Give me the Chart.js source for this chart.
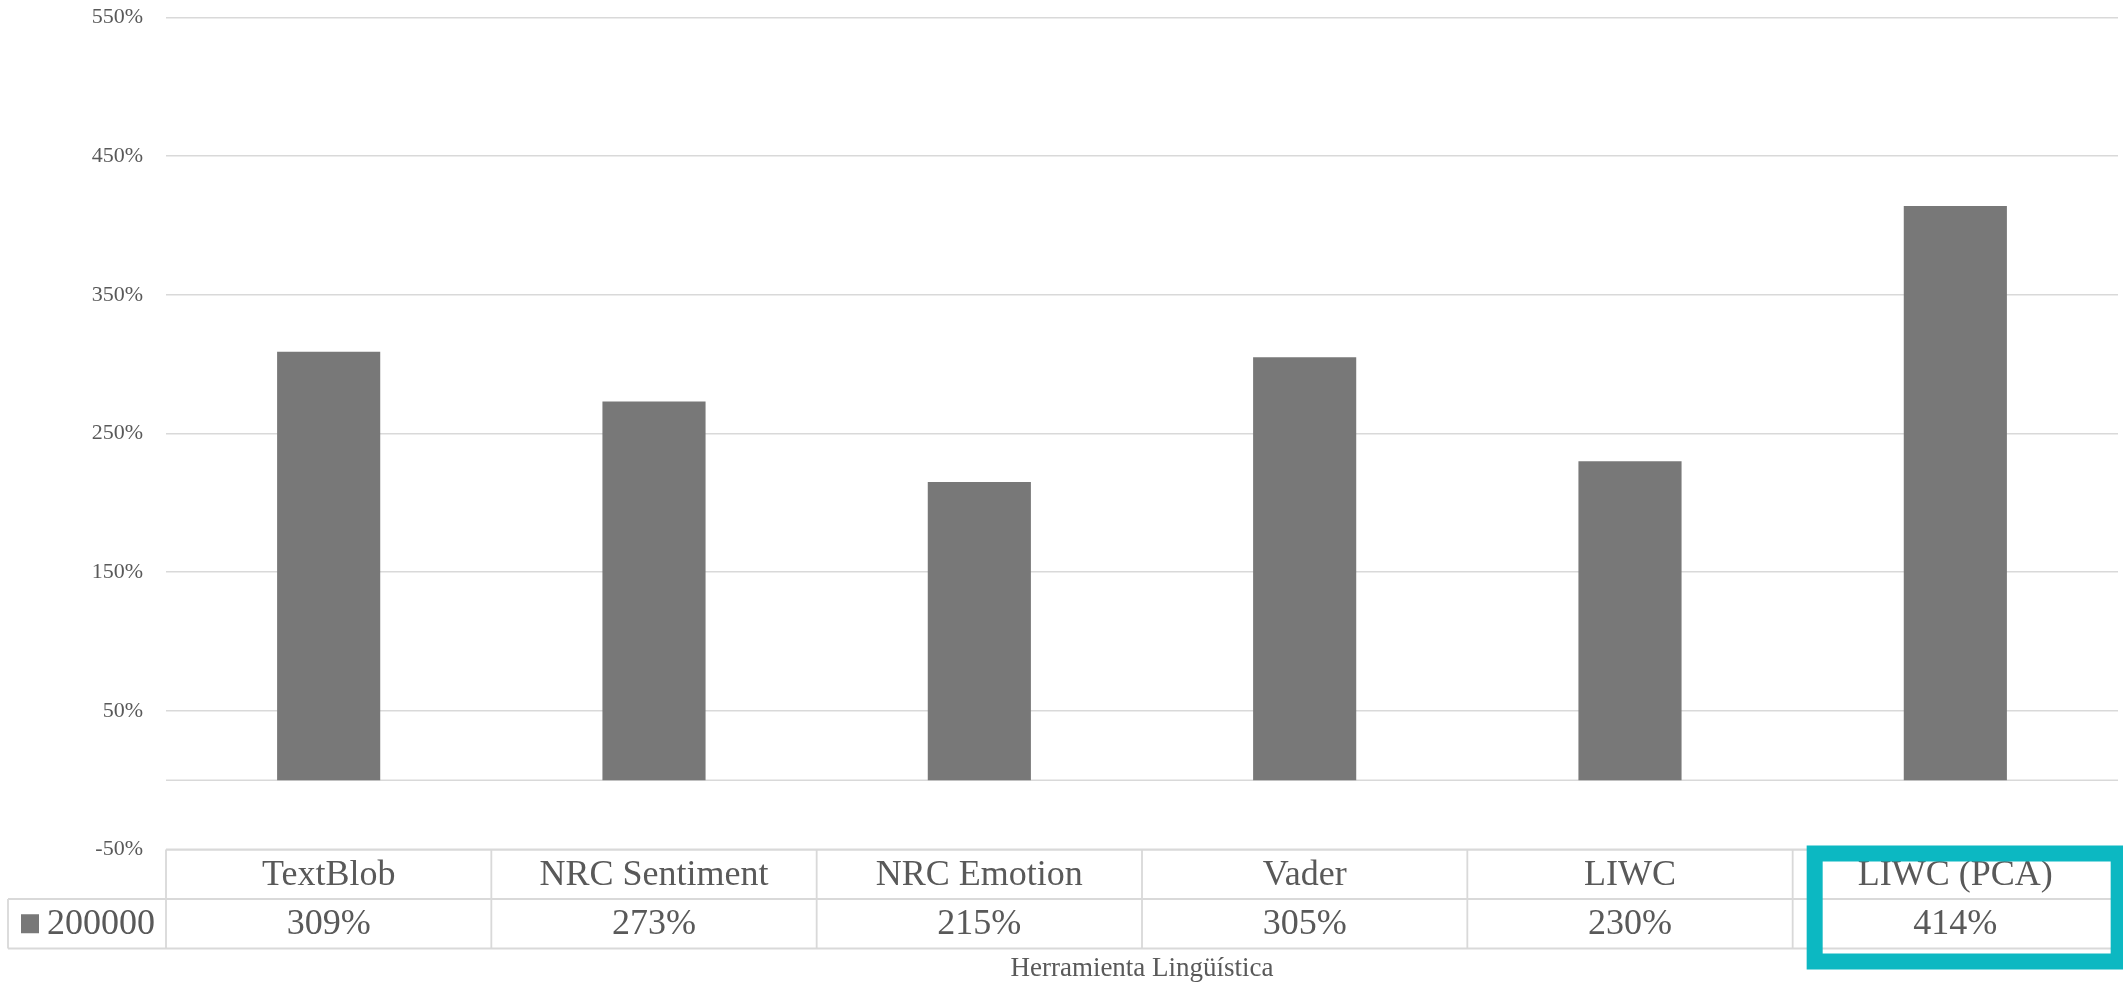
<!DOCTYPE html>
<html>
<head>
<meta charset="utf-8">
<script src="https://cdn.jsdelivr.net/npm/chart.js@4/dist/chart.umd.min.js"></script>
<style>
  html, body { margin: 0; padding: 0; background: #ffffff; }
  #wrap { width: 2123px; height: 985px; position: relative; }
</style>
</head>
<body>
<div id="wrap"><canvas id="c" width="2123" height="985"></canvas></div>
<script>
const categories = ['TextBlob', 'NRC Sentiment', 'NRC Emotion', 'Vader', 'LIWC', 'LIWC (PCA)'];
const seriesName = '200000';
const values = [309, 273, 215, 305, 230, 414];
const yMin = -50, yMax = 550, yStep = 100;
const axisTitle = 'Herramienta Lingüística';
const highlightIndex = 5;

const FONT = '"Liberation Serif", "Times New Roman", serif';
const TEXT = '#595959';
const GRID = '#d9d9d9';
const BAR = '#787878';
const TEAL = '#0cb8c2';

const tablePlugin = {
  id: 'tablePlugin',
  beforeDatasetsDraw(chart) {
    const ctx = chart.ctx, y = chart.scales.y, a = chart.chartArea;
    const z = y.getPixelForValue(0);
    ctx.save();
    ctx.strokeStyle = GRID; ctx.lineWidth = 1.5;
    ctx.beginPath(); ctx.moveTo(a.left, z); ctx.lineTo(a.right, z); ctx.stroke();
    ctx.restore();
  },
  afterDraw(chart) {
    const ctx = chart.ctx, x = chart.scales.x, y = chart.scales.y, a = chart.chartArea;
    const n = categories.length;
    const step = (a.right - a.left) / n;
    const top = y.getPixelForValue(yMin);
    const rowH = 49.5;
    const mid = top + rowH, bot = top + 2 * rowH;
    const legL = 8;
    ctx.save();
    ctx.strokeStyle = GRID; ctx.lineWidth = 1.8;
    ctx.beginPath();
    ctx.moveTo(a.left, top); ctx.lineTo(a.right, top);
    ctx.moveTo(legL, mid); ctx.lineTo(a.right, mid);
    ctx.moveTo(legL, bot); ctx.lineTo(a.right, bot);
    ctx.moveTo(legL, mid); ctx.lineTo(legL, bot);
    for (let i = 0; i <= n; i++) {
      const xb = x.getPixelForValue(i) - step / 2;
      ctx.moveTo(xb, top); ctx.lineTo(xb, bot);
    }
    ctx.stroke();
    // texts
    ctx.fillStyle = TEXT;
    ctx.font = '36px ' + FONT;
    ctx.textAlign = 'center'; ctx.textBaseline = 'middle';
    for (let i = 0; i < n; i++) {
      const cx = x.getPixelForValue(i);
      ctx.fillText(categories[i], cx, top + rowH / 2 + 1);
      ctx.fillText(values[i] + '%', cx, mid + rowH / 2 + 1);
    }
    // legend key
    ctx.fillStyle = BAR;
    ctx.fillRect(21, mid + rowH / 2 - 9.5, 18, 19);
    ctx.fillStyle = TEXT;
    ctx.textAlign = 'left';
    ctx.fillText(seriesName, 47, mid + rowH / 2 + 1);
    // axis title
    ctx.font = '27px ' + FONT;
    ctx.textAlign = 'center';
    ctx.fillText(axisTitle, (a.left + a.right) / 2, bot + 20);
    // highlight box
    const hx = x.getPixelForValue(highlightIndex) - step / 2;
    ctx.strokeStyle = TEAL; ctx.lineWidth = 16;
    ctx.strokeRect(hx + 22, top + 4, 304, 108);
    ctx.restore();
  }
};

new Chart(document.getElementById('c'), {
  type: 'bar',
  data: {
    labels: categories,
    datasets: [{
      label: seriesName,
      data: values,
      backgroundColor: BAR,
      borderWidth: 0,
      categoryPercentage: 1.0,
      barPercentage: 0.317
    }]
  },
  options: {
    responsive: false,
    animation: false,
    devicePixelRatio: 1,
    layout: { padding: { top: 17.5, bottom: 135.5, right: 5, left: 0 } },
    plugins: { legend: { display: false }, tooltip: { enabled: false } },
    scales: {
      x: { display: false },
      y: {
        min: yMin, max: yMax,
        afterFit(scale) { scale.width = 166; scale.paddingTop = 0; scale.paddingBottom = 0; },
        border: { display: false },
        grid: { color: GRID, lineWidth: 1.5, drawTicks: false },
        ticks: {
          stepSize: yStep,
          padding: 23,
          color: TEXT,
          font: { family: FONT, size: 22 },
          callback: v => v + '%'
        }
      }
    }
  },
  plugins: [tablePlugin]
});
</script>
</body>
</html>
